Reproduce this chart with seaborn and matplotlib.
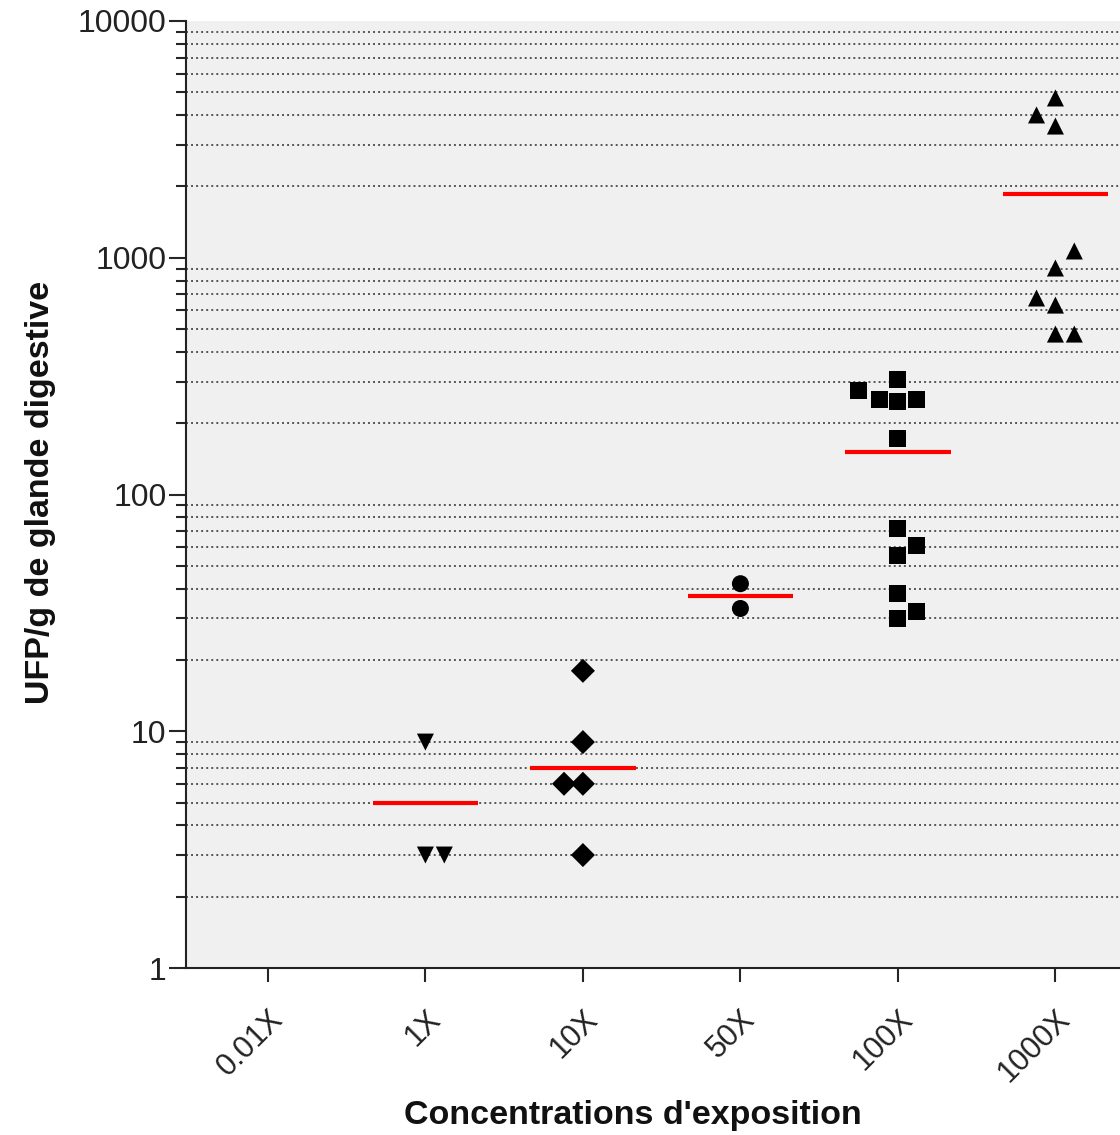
import numpy as np
import pandas as pd
import matplotlib
matplotlib.use("Agg")
import matplotlib.pyplot as plt
import seaborn as sns
from matplotlib.ticker import LogLocator, FixedLocator, NullFormatter

# ---- data ----
categories = ["0.01X", "1X", "10X", "50X", "100X", "1000X"]

vals_1x = [9, 3, 3]
vals_10x = [18, 9, 6, 6, 3]
vals_50x = [42, 33]
vals_100x = [305, 276, 253, 246, 253, 173, 72, 61, 55, 38, 32, 30]
vals_1000x = [4730, 4010, 3600, 1068, 905, 676, 631, 476, 476]

# horizontal spread of overlapping points (category units)
spread_1x = [0, 0, 0.12]
spread_10x = [0, 0, -0.12, 0, 0]
spread_50x = [0, 0]
spread_100x = [0, -0.25, -0.12, 0, 0.12, 0, 0, 0.12, 0, 0, 0.12, 0]
spread_1000x = [0, -0.12, 0, 0.12, 0, -0.12, 0, 0, 0.12]

mean_groups = ["1X", "10X", "50X", "100X", "1000X"]
mean_values = [5.0, 7.0, 37.3, 151, 1859]

groups = {
    "1X": (vals_1x, spread_1x),
    "10X": (vals_10x, spread_10x),
    "50X": (vals_50x, spread_50x),
    "100X": (vals_100x, spread_100x),
    "1000X": (vals_1000x, spread_1000x),
}
rows = []
for g, (vals, spr) in groups.items():
    for v, s in zip(vals, spr):
        rows.append({"group": g, "x": categories.index(g) + s, "y": v})
df = pd.DataFrame(rows)

markers = {"1X": "v", "10X": "D", "50X": "o", "100X": "s", "1000X": "^"}

# ---- style ----
sns.set_theme(style="ticks")
plt.rcParams["font.family"] = ["Liberation Sans", "DejaVu Sans"]

fig = plt.figure(figsize=(11.2, 11.35), dpi=100)
ax = fig.add_axes([186 / 1120, (1135 - 968) / 1135, 1 - 186 / 1120, (968 - 21) / 1135])
ax.set_facecolor("#f0f0f0")

sns.scatterplot(data=df, x="x", y="y", style="group", markers=markers,
                color="black", s=150, edgecolor="black", linewidth=0,
                legend=False, ax=ax, zorder=3)

for g, m in zip(mean_groups, mean_values):
    i = categories.index(g)
    ax.hlines(m, i - 0.335, i + 0.335, color="#ff0000", lw=3, zorder=4)

ax.set_yscale("log")
ax.set_ylim(1, 10000)
ax.set_xlim(-0.52, 5.41)

ax.yaxis.set_major_locator(FixedLocator([1, 10, 100, 1000, 10000]))
ax.set_yticklabels(["1", "10", "100", "1000", "10000"])
ax.yaxis.set_minor_locator(LogLocator(base=10, subs=np.arange(2, 10)))
ax.yaxis.set_minor_formatter(NullFormatter())
ax.grid(False)
ax.yaxis.grid(True, which="minor", linestyle=(0, (1, 1.6)), color="#555555", lw=1.4)

ax.set_xticks(range(len(categories)))
ax.set_xticklabels(categories, rotation=45, ha="right", va="top",
                   rotation_mode="anchor", fontsize=22, color="#222222")
ax.tick_params(axis="y", which="major", length=12, width=1.5, labelsize=23,
               labelcolor="#222222", pad=2)
ax.tick_params(axis="y", which="minor", length=7, width=1.5)
ax.tick_params(axis="x", which="major", length=10, width=1.5, pad=16)

for sp in ["top", "right"]:
    ax.spines[sp].set_visible(False)
for sp in ["left", "bottom"]:
    ax.spines[sp].set_linewidth(1.5)
    ax.spines[sp].set_color("#222222")

ax.set_xlabel("Concentrations d'exposition", fontsize=24.5, fontweight="bold",
              color="#111111")
ax.set_ylabel("UFP/g de glande digestive", fontsize=24.5, fontweight="bold",
              color="#111111")
ax.xaxis.set_label_coords((633 - 186) / (1120 - 186), -(1100 - 968) / (968 - 21))
ax.yaxis.set_label_coords(-(186 - 56) / (1120 - 186), (968 - 492) / (968 - 21))

fig.savefig("out.png", dpi=100)
